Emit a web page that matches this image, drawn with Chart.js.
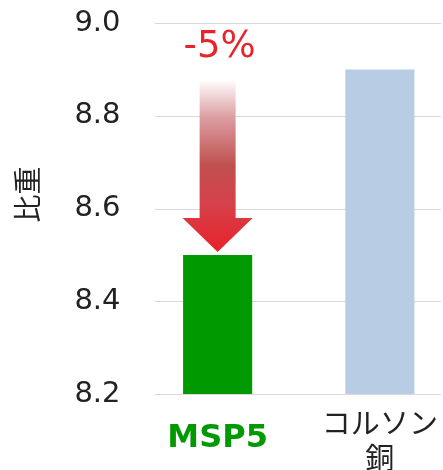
<!DOCTYPE html>
<html>
<head>
<meta charset="utf-8">
<script src="https://cdn.jsdelivr.net/npm/chart.js@4.4.1/dist/chart.umd.min.js"></script>
<style>
  html,body{margin:0;padding:0;overflow:hidden;background:#fff;}
  #wrap{width:470px;height:470px;position:relative;}
</style>
</head>
<body>
<div id="wrap"><canvas id="chart"></canvas></div>
<script>
// data
const categories = [["MSP5"], ["コルソン", "銅"]];
const values = [8.5, 8.9];
const barColors = ["#009a00", "#b8cce4"];
const labelColors = ["#009a00", "#222222"];
const yTicks = [8.2, 8.4, 8.6, 8.8, 9.0];
const arrowLabel = "-5%";
const yTitle = "\u3000比重";

// light gridlines, drawn only across the visible plot part
const gridPlugin = {
    id: "gridPart",
    beforeDatasetsDraw(chart){
        const c = chart.ctx, y = chart.scales.y;
        c.save();
        c.strokeStyle = "#d9d9d9";
        c.lineWidth = 1;
        yTicks.forEach(v=>{
            const py = Math.round(y.getPixelForValue(v)) + 0.5;
            c.beginPath();
            c.moveTo(155, py);
            c.lineTo(441, py);
            c.stroke();
        });
        c.restore();
    }
};

// gradient arrow + "-5%" over the first bar
const arrowPlugin = {
    id: "arrow",
    afterDatasetsDraw(chart){
        const c = chart.ctx, y = chart.scales.y;
        const bar = chart.getDatasetMeta(0).data[0];
        const cx = bar.x;
        const top = y.getPixelForValue(values[1]) + 10;
        const tip = y.getPixelForValue(values[0]) - 3;
        const headH = 34, shaftW = 18, headW = 35;
        const g = c.createLinearGradient(0, top, 0, tip);
        g.addColorStop(0, "rgba(255,255,255,1)");
        g.addColorStop(0.22, "#dc9ea2");
        g.addColorStop(0.5, "#c0504f");
        g.addColorStop(0.72, "#d6414a");
        g.addColorStop(1, "#e8222a");
        c.save();
        c.fillStyle = g;
        c.beginPath();
        c.moveTo(cx - shaftW, top);
        c.lineTo(cx + shaftW, top);
        c.lineTo(cx + shaftW, tip - headH);
        c.lineTo(cx + headW, tip - headH);
        c.lineTo(cx, tip);
        c.lineTo(cx - headW, tip - headH);
        c.lineTo(cx - shaftW, tip - headH);
        c.closePath();
        c.fill();
        c.fillStyle = "#e8232a";
        c.font = "37px 'DejaVu Sans'";
        c.textAlign = "center";
        c.textBaseline = "middle";
        c.fillText(arrowLabel, cx + 2, 47);
        c.restore();
    }
};

new Chart(document.getElementById("chart"), {
    type: "bar",
    data: {
        labels: categories,
        datasets: [{
            data: values,
            backgroundColor: barColors,
            barPercentage: 0.426,
            categoryPercentage: 1
        }]
    },
    options: {
        responsive: true,
        maintainAspectRatio: false,
        animation: false,
        layout: { padding: { top: 23, left: 0, right: 9, bottom: 0 } },
        plugins: { legend: { display: false }, tooltip: { enabled: false } },
        scales: {
            x: {
                grid: { display: false },
                border: { display: false },
                afterFit(s){ s.height = 76; },
                ticks: {
                    maxRotation: 0,
                    autoSkip: false,
                    padding: 21,
                    crossAlign: "center",
                    color: ctx => labelColors[ctx.index],
                    font: ctx => ctx.index === 0
                        ? { family: "'DejaVu Sans'", size: 32, weight: "bold", lineHeight: 1.2 }
                        : { family: "'Noto Sans CJK JP'", size: 29, lineHeight: 1.2 }
                }
            },
            y: {
                min: 8.2,
                max: 9.0,
                grid: { display: false, drawTicks: false },
                border: { display: false },
                afterFit(s){ s.width = 136.5; s.paddingTop = 0; s.paddingBottom = 0; },
                afterBuildTicks(s){ s.ticks = yTicks.map(v=>({ value: v })); },
                ticks: {
                    padding: 16,
                    color: "#222222",
                    font: { family: "'DejaVu Sans'", size: 29 },
                    callback: v => v.toFixed(1)
                },
                title: {
                    display: true,
                    text: yTitle,
                    color: "#222222",
                    padding: { top: 11, bottom: 0 },
                    font: { family: "'Noto Sans CJK JP'", size: 28, lineHeight: 1.2 }
                }
            }
        }
    },
    plugins: [gridPlugin, arrowPlugin]
});
</script>
</body>
</html>
